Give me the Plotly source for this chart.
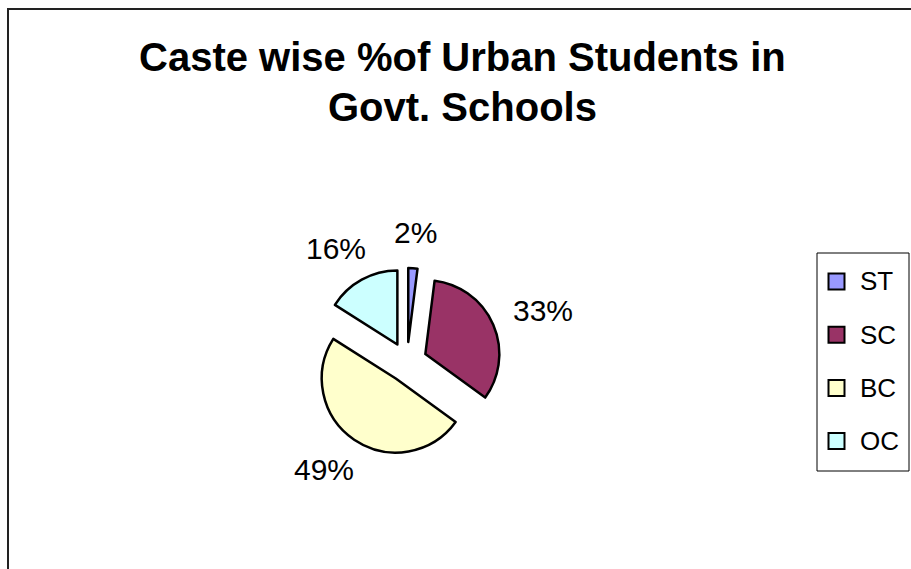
import math
import plotly.graph_objects as go

# Caste-wise share of urban students in government schools
castes = ["ST", "SC", "BC", "OC"]
shares = [2, 33, 49, 16]
colors = ["#9999FF", "#993366", "#FFFFCC", "#CCFFFF"]
title_lines = ["Caste wise %of Urban Students in", "Govt. Schools"]

W, H = 911, 569
FONT = "Arial, Liberation Sans, sans-serif"

# pie placement (pixels)
cx, cy = 407, 362
radius = 74
pull = 0.27
half = radius * (1 + pull)


def px_x(x):
    return x / W


def px_y(y):
    return 1 - y / H


fig = go.Figure(
    go.Pie(
        labels=castes,
        values=shares,
        sort=False,
        direction="clockwise",
        rotation=0,
        pull=[pull] * len(shares),
        marker=dict(colors=colors, line=dict(color="black", width=2.5)),
        textinfo="none",
        hoverinfo="label+percent",
        showlegend=False,
        domain=dict(
            x=[px_x(cx - half), px_x(cx + half)],
            y=[px_y(cy + half), px_y(cy - half)],
        ),
    )
)

annotations = []

# two-line bold title
for text, yc in zip(title_lines, [56.5, 107]):
    annotations.append(
        dict(x=px_x(462), y=px_y(yc), xref="paper", yref="paper",
             text=f"<b>{text}</b>", showarrow=False,
             xanchor="center", yanchor="middle",
             font=dict(family=FONT, size=40, color="black"))
    )

# percentage labels placed outside each slice, along its mid-angle,
# pushed out further by the half-size of the text box
total = sum(shares)
start = 0.0
fs = 30
for name, v in zip(castes, shares):
    frac = v / total
    mid = (start + frac / 2) * 2 * math.pi
    start += frac
    dx, dy = math.sin(mid), -math.cos(mid)
    text = f"{round(100 * frac)}%"
    hw = (0.556 * (len(text) - 1) + 0.889) * fs / 2
    hh = 11
    lx = cx + dx * (118 + hw)
    ly = cy + dy * (119 + hh)
    annotations.append(
        dict(
            x=px_x(lx), y=px_y(ly), xref="paper", yref="paper",
            text=text, showarrow=False, xanchor="center", yanchor="middle",
            font=dict(family=FONT, size=fs, color="black"),
        )
    )

shapes = [
    # chart frame (runs off the right and bottom edges)
    dict(type="rect", xref="paper", yref="paper",
         x0=px_x(8), x1=px_x(W + 10), y0=px_y(H + 10), y1=px_y(9),
         line=dict(color="#222222", width=2), fillcolor="rgba(0,0,0,0)"),
    # legend box
    dict(type="rect", xref="paper", yref="paper",
         x0=px_x(817), x1=px_x(909), y0=px_y(471), y1=px_y(253),
         line=dict(color="black", width=1), fillcolor="white"),
]
row0, step = 281.5, 53.2
for i, (name, c) in enumerate(zip(castes, colors)):
    yc = row0 + i * step
    shapes.append(
        dict(type="rect", xref="paper", yref="paper",
             x0=px_x(828.5), x1=px_x(844.5), y0=px_y(yc + 8), y1=px_y(yc - 8),
             line=dict(color="black", width=2), fillcolor=c)
    )
    annotations.append(
        dict(x=px_x(858), y=px_y(yc), xref="paper", yref="paper",
             text=name, showarrow=False, xanchor="left", yanchor="middle",
             font=dict(family=FONT, size=26, color="black"))
    )

fig.update_layout(
    width=W,
    height=H,
    margin=dict(l=0, r=0, t=0, b=0),
    paper_bgcolor="white",
    plot_bgcolor="white",
    annotations=annotations,
    shapes=shapes,
)

fig.write_html("out.html")
